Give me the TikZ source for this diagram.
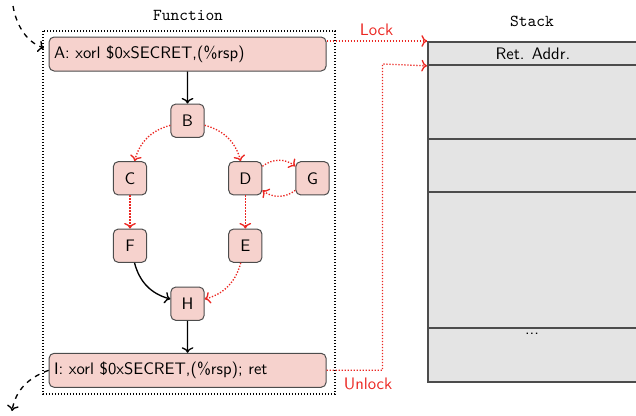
\documentclass[tikz,border=0pt]{standalone}
\usetikzlibrary{arrows.meta}
\definecolor{nodefill}{RGB}{246,210,205}
\definecolor{stackfill}{RGB}{228,228,228}
\definecolor{lockred}{RGB}{235,40,35}
\begin{document}
\begin{tikzpicture}[x=0.6pt,y=-0.6pt, font=\sffamily,
  blk/.style={draw=black!70, fill=nodefill, rounded corners=3pt, semithick, minimum size=20pt, inner sep=0pt},
  wide/.style={draw=black!70, fill=nodefill, rounded corners=3pt, semithick, minimum width=166.2pt, minimum height=20.4pt, inner xsep=3pt, inner ysep=0pt, text width=160.2pt, align=left},
  flow/.style={->, thick, black},
  redflow/.style={->, thick, densely dotted, lockred},
  cell/.style={draw=black!70, fill=stackfill, line width=1.1pt, minimum width=126pt, inner sep=0pt, anchor=north west},
  title/.style={font=\ttfamily, anchor=base},
  lbl/.style={text=lockred, anchor=base},
]
\useasboundingbox (0,0) rectangle (636,416);

% titles
\node[title] (ftitle) at (188,20.5) {Function};
\node[title] (stitle) at (532,26.5) {Stack};

% frame
\draw[densely dotted, thick] (43,31) rectangle (335,394);

% function nodes
\node[wide] (A) at (187.6,54) {A: xorl \$0xSECRET,(\%rsp)};
\node[blk] (B) at (187.5,120.7) {B};
\node[blk] (C) at (130,178.3) {C};
\node[blk] (D) at (245.3,178.3) {D};
\node[blk] (G) at (312.5,178.3) {G};
\node[blk] (F) at (130,245.7) {F};
\node[blk] (E) at (245.3,245.7) {E};
\node[blk] (H) at (187.5,303.7) {H};
\node[wide] (I) at (187.6,370.3) {I: xorl \$0xSECRET,(\%rsp); ret};

% stack
\node[cell, minimum height=13.8pt] (ret) at (427,41) {Ret.  Addr.};
\node[cell, minimum height=44.4pt] (s2) at (427,64) {};
\node[cell, minimum height=31.8pt] (s3) at (427,138) {};
\node[cell, minimum height=81.6pt] (s4) at (427,191) {};
\node[cell, minimum height=32.4pt] (s5) at (427,327) {};
\node[anchor=base, inner sep=0pt] (dots) at (532,334) {...};

% control flow
\draw[flow] (A) -- (B);
\draw[redflow] (B) to[bend right=30] (C);
\draw[redflow] (B) to[bend left=30] (D);
\draw[redflow] (C) -- (F);
\draw[redflow] (D) -- (E);
\draw[redflow] (D.35) to[bend left=38] (G.145);
\draw[redflow] (G.-145) to[bend left=38] (D.-35);
\draw[flow] (F) to[bend right=30] (H);
\draw[redflow] (E) to[bend left=30] (H);
\draw[flow] (H) -- (I);

% entry / exit
\coordinate (in) at (13,6);
\coordinate (out) at (12,411);
\draw[->, thick, dashed, shorten >=3pt] (in) to[out=-80, in=160] ([yshift=2.5pt]A.west);
\draw[->, thick, dashed] (I.west) to[out=200, in=80] (out);

% lock / unlock
\draw[redflow] (A.east |- ret.north west) -- (ret.north west);
\node[lbl] (locklbl) at (376.5,35) {Lock};
\coordinate (turn) at (382.5,64);
\draw[redflow] (I.east) -| (turn) -- (ret.south west);
\node[lbl] (unlocklbl) at (368,389) {Unlock};
\end{tikzpicture}
\end{document}
